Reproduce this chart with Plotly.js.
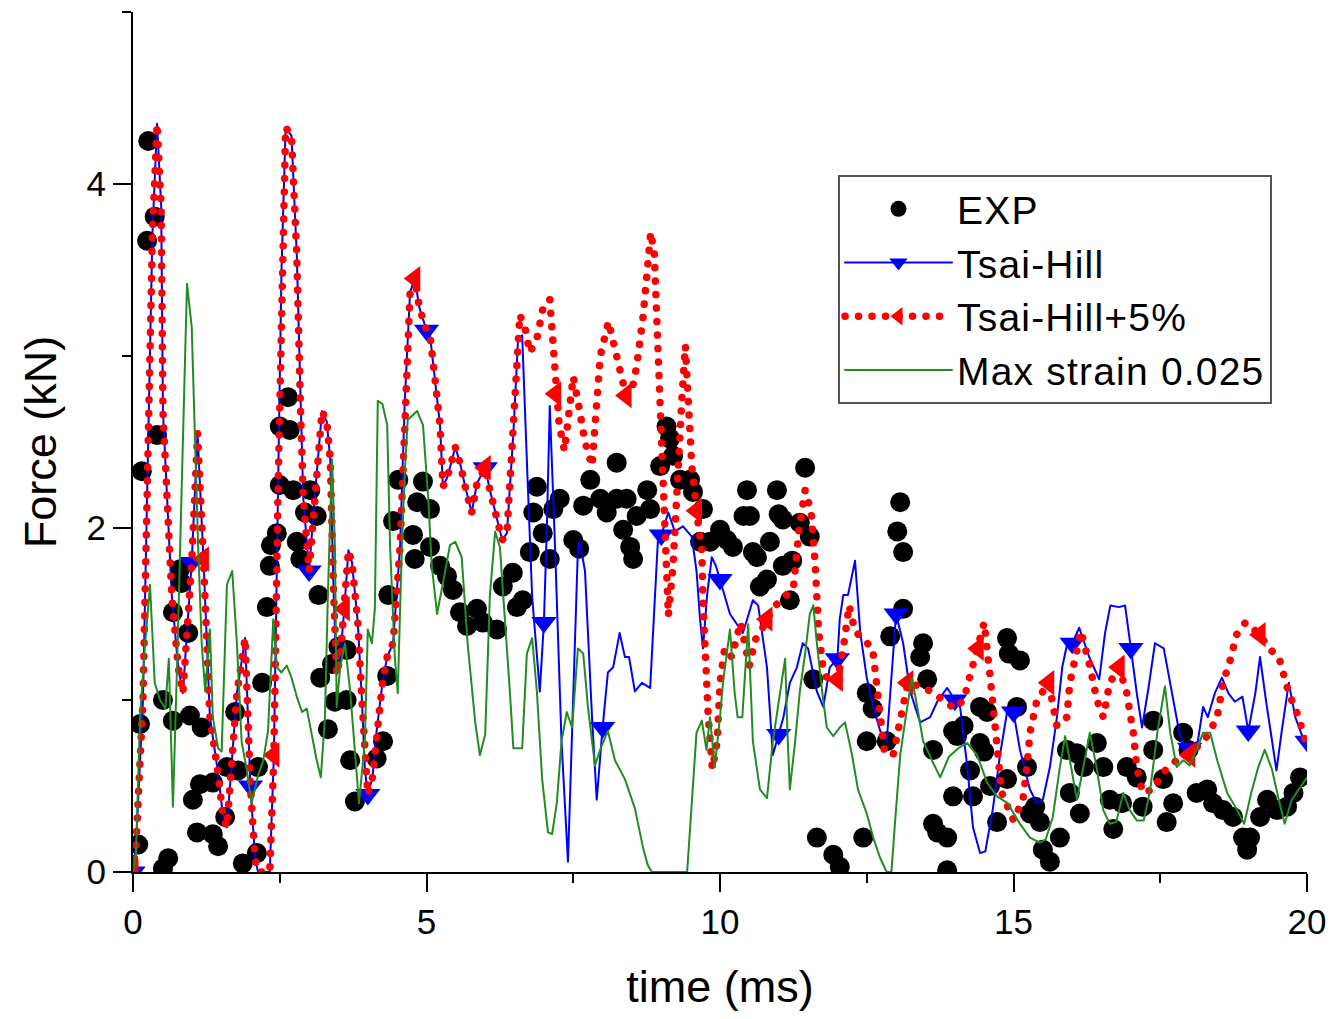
<!DOCTYPE html>
<html>
<head>
<meta charset="utf-8">
<script src="https://cdn.plot.ly/plotly-3.0.1.min.js"></script>
<style>
html, body { margin: 0; padding: 0; background: #ffffff; }
#chart { width: 1330px; height: 1019px; }
.js-line { stroke-linecap: round; stroke-linejoin: round; }
.legendtext { letter-spacing: 1.2px; }
</style>
</head>
<body>
<div id="chart"></div>
<script>
// ---------- data ----------
const seriesNames = ['EXP', 'Tsai-Hill', 'Tsai-Hill+5%', 'Max strain 0.025'];
const xTickValues = [0, 5, 10, 15, 20];
const yTickValues = [0, 2, 4];

// EXP (measured force, kN) vs time (ms)
const expTime = [
  0.09, 0.12, 0.15, 0.24, 0.26, 0.37, 0.41, 0.51, 0.51, 0.6,
  0.68, 0.68, 0.8, 0.83, 0.94, 0.97, 1.02, 1.09, 1.14, 1.17,
  1.36, 1.36, 1.45, 1.57, 1.6, 1.74, 1.79, 1.87, 2.11, 2.13,
  2.2, 2.28, 2.33, 2.35, 2.45, 2.5, 2.5, 2.64, 2.67, 2.73,
  2.79, 2.85, 2.93, 3.02, 3.13, 3.16, 3.19, 3.32, 3.39, 3.44,
  3.5, 3.64, 3.64, 3.7, 3.78, 4.15, 4.26, 4.33, 4.35, 4.43,
  4.52, 4.77, 4.8, 4.84, 4.94, 5.06, 5.06, 5.23, 5.35, 5.45,
  5.57, 5.69, 5.86, 5.96, 6.2, 6.3, 6.47, 6.54, 6.64, 6.76,
  6.82, 6.88, 6.98, 7.1, 7.16, 7.27, 7.5, 7.6, 7.67, 7.79,
  7.96, 8.07, 8.24, 8.24, 8.35, 8.41, 8.47, 8.52, 8.58, 8.76,
  8.81, 8.98, 9.09, 9.15, 9.2, 9.32, 9.49, 9.54, 9.66, 9.71,
  9.83, 10.0, 10.12, 10.22, 10.4, 10.46, 10.51, 10.56, 10.63, 10.68,
  10.8, 10.85, 10.97, 11.0, 11.07, 11.07, 11.19, 11.23, 11.36, 11.45,
  11.53, 11.59, 11.65, 11.93, 12.04, 12.44, 12.5, 12.5, 12.6, 12.84,
  12.9, 13.02, 13.07, 13.12, 13.12, 13.41, 13.46, 13.53, 13.63, 13.63,
  13.7, 13.87, 13.87, 13.97, 13.97, 14.04, 14.15, 14.26, 14.31, 14.43,
  14.43, 14.5, 14.55, 14.6, 14.72, 14.89, 14.89, 14.92, 15.06, 15.11,
  15.23, 15.28, 15.37, 15.45, 15.5, 15.62, 15.79, 15.91, 15.96, 16.08,
  16.13, 16.2, 16.42, 16.53, 16.64, 16.7, 16.85, 16.93, 17.1, 17.2,
  17.38, 17.38, 17.55, 17.61, 17.72, 17.89, 17.98, 18.12, 18.3, 18.4,
  18.57, 18.74, 18.91, 18.98, 19.03, 19.2, 19.32, 19.49, 19.66, 19.77,
  19.88
];
const expForce = [
  0.16, 0.86, 2.33, 3.67, 4.25, 3.81, 2.54, 0.02, 1.0, 0.08,
  0.88, 1.51, 1.76, 1.68, 1.39, 0.91, 0.42, 0.23, 0.51, 0.84,
  0.52, 0.22, 0.15, 0.32, 0.61, 0.93, 0.59, 0.05, 0.11, 0.61,
  1.1, 1.54, 1.78, 1.9, 1.97, 2.59, 2.25, 2.76, 2.57, 2.22,
  1.92, 1.82, 2.09, 2.22, 2.07, 1.61, 1.13, 0.83, 1.21, 0.99,
  1.31, 1.29, 1.0, 0.65, 0.41, 0.66, 0.76, 1.14, 1.61, 2.04,
  2.28, 1.96, 1.82, 2.15, 2.27, 2.11, 1.89, 1.78, 1.72, 1.64,
  1.51, 1.43, 1.53, 1.45, 1.41, 1.66, 1.74, 1.54, 1.58, 1.86,
  2.09, 2.24, 1.97, 1.82, 2.11, 2.17, 1.93, 1.88, 2.13, 2.28,
  2.17, 2.09, 2.38, 2.17, 1.99, 2.17, 1.89, 1.82, 2.07, 2.22,
  2.11, 2.36, 2.59, 2.52, 2.42, 2.28, 2.28, 2.21, 1.92, 2.11,
  1.92, 1.99, 1.93, 1.89, 2.07, 2.22, 2.07, 1.86, 1.83, 1.66,
  1.7, 1.92, 2.22, 2.08, 2.05, 1.78, 1.58, 1.81, 2.03, 2.35,
  1.95, 1.12, 0.2, 0.1, 0.03, 0.2, 1.04, 0.76, 0.95, 0.76,
  1.37, 1.98, 2.15, 1.86, 1.53, 1.25, 1.33, 1.12, 0.71, 0.28,
  0.23, 0.2, 0.01, 0.82, 0.44, 0.79, 0.85, 0.59, 0.44, 0.96,
  0.75, 0.7, 0.93, 0.5, 0.29, 0.54, 1.36, 1.27, 0.96, 1.23,
  0.61, 0.34, 0.38, 0.29, 0.13, 0.06, 0.2, 0.71, 0.46, 0.69,
  0.34, 0.61, 0.75, 0.61, 0.42, 0.25, 0.4, 0.61, 0.55, 0.38,
  0.88, 0.71, 0.54, 0.29, 0.4, 0.81, 0.71, 0.46, 0.48, 0.4,
  0.36, 0.32, 0.2, 0.13, 0.2, 0.32, 0.42, 0.36, 0.38, 0.46,
  0.55
];

// Tsai-Hill simulation
const hillTime = [
  0, 0.05, 0.17, 0.26, 0.33, 0.41, 0.48, 0.51, 0.58, 0.66,
  0.77, 0.85, 1.0, 1.1, 1.2, 1.31, 1.43, 1.54, 1.6, 1.77,
  1.91, 2.0, 2.08, 2.13, 2.33, 2.4, 2.47, 2.53, 2.6, 2.7,
  2.79, 2.85, 2.9, 3.0, 3.1, 3.22, 3.3, 3.36, 3.42, 3.47,
  3.53, 3.6, 3.67, 3.73, 3.83, 3.9, 3.95, 4.0, 4.08, 4.15,
  4.25, 4.33, 4.43, 4.55, 4.63, 4.72, 4.8, 4.88, 5.0, 5.06,
  5.15, 5.23, 5.28, 5.36, 5.49, 5.57, 5.66, 5.77, 5.86, 6.0,
  6.08, 6.2, 6.29, 6.37, 6.48, 6.56,
  6.63, 6.72, 6.8, 6.93, 7.0, 7.05, 7.1, 7.19, 7.3, 7.41,
  7.5, 7.58, 7.61, 7.7, 7.82, 7.9, 8.0, 8.09, 8.18, 8.29,
  8.38, 8.45, 8.55, 8.67, 8.81, 8.9, 8.95, 9.0, 9.12, 9.23,
  9.37, 9.52, 9.6, 9.66, 9.71, 9.78, 9.86, 9.93, 10.0, 10.17,
  10.39, 10.56, 10.65, 10.8, 10.9, 11.0, 11.08, 11.19, 11.31, 11.41,
  11.5, 11.65, 11.76, 11.87, 12.0, 12.04, 12.1, 12.18, 12.3, 12.39,
  12.5, 12.61, 12.73, 12.84, 12.95, 13.0, 13.12, 13.24, 13.41, 13.58,
  13.7, 13.87, 14.0, 14.09, 14.21, 14.31, 14.43, 14.52, 14.65, 14.77,
  14.89, 15.0, 15.11, 15.28, 15.4, 15.5, 15.62, 15.74, 15.83, 15.91,
  16.0, 16.12, 16.29, 16.46, 16.56, 16.65, 16.8, 16.9, 17.0, 17.1,
  17.19, 17.3, 17.41, 17.56, 17.7, 17.82, 17.93, 18.0, 18.14, 18.23,
  18.31, 18.43, 18.55, 18.66, 18.77, 18.9, 19.0, 19.12, 19.2, 19.3,
  19.4, 19.48, 19.57, 19.69, 19.8, 19.92, 20.0
];
const hillForce = [
  0, 0.15, 1.0, 2.6, 3.7, 4.35, 3.87, 2.68, 2.18, 1.61,
  1.19, 1.04, 1.8, 2.55, 1.82, 0.9, 0.62, 0.31, 0.26, 1.04,
  1.36, 0.5, 0.08, 0, 0, 0.68, 2.2, 3.5, 4.33, 4.28,
  3.59, 2.74, 2.18, 1.75, 2.2, 2.68, 2.62, 2.4, 1.6, 1.15,
  1.25, 1.53, 1.87, 1.8, 1.45, 1.0, 0.6, 0.45, 0.55, 0.82,
  1.1, 1.25, 1.33, 1.89, 2.74, 3.37, 3.45, 3.28, 3.15, 3.12,
  2.85, 2.6, 2.24, 2.3, 2.47, 2.38, 2.24, 2.09, 2.26, 2.35,
  2.22, 2.05, 1.93, 1.97, 2.55, 3.1,
  3.12, 2.3, 1.6, 1.05, 1.45, 2.0, 2.71, 1.89, 0.76, 0.06,
  1.05, 1.89, 1.92, 1.75, 0.9, 0.42, 0.84, 1.16, 1.19, 1.39,
  1.25, 1.25, 1.05, 1.1, 1.07, 1.61, 1.98, 1.96, 2.09, 1.98,
  2.01, 1.95, 1.75, 1.47, 1.3, 1.61, 1.83, 1.78, 1.7, 1.5,
  1.39, 1.58, 1.55, 1.19, 0.68, 0.8, 0.9, 1.1, 1.19, 1.33,
  1.3, 1.05, 0.96, 1.19, 1.24, 1.47, 1.61, 1.61, 1.81, 1.39,
  1.13, 0.96, 0.82, 0.76, 1.3, 1.5, 1.33, 1.05, 0.87, 0.9,
  0.99, 1.07, 1.0, 0.96, 0.62, 0.26, 0.11, 0.12, 0.37, 0.68,
  0.93, 0.93, 0.71, 0.48, 0.4, 0.42, 0.61, 0.9, 1.19, 1.32,
  1.33, 1.42, 1.25, 1.12, 1.39, 1.55, 1.54, 1.55, 1.3, 1.04,
  0.84, 1.07, 1.33, 1.3, 1.04, 0.82, 0.7, 0.72, 0.76, 0.96,
  0.9, 1.04, 1.13, 1.04, 0.99, 1.02, 0.82, 1.04, 1.25, 1.0,
  0.76, 0.59, 0.82, 1.1, 0.9, 0.79, 0.76
];

// Tsai-Hill+5% simulation
const hill5Time = [
  0, 0.05, 0.17, 0.26, 0.33, 0.41, 0.48, 0.51, 0.58, 0.66,
  0.77, 0.85, 1.0, 1.1, 1.2, 1.31, 1.43, 1.54, 1.6, 1.77,
  1.91, 2.0, 2.08, 2.13, 2.33, 2.4, 2.47, 2.53, 2.6, 2.7,
  2.79, 2.85, 2.9, 3.0, 3.1, 3.22, 3.3, 3.36, 3.42, 3.47,
  3.53, 3.6, 3.67, 3.73, 3.83, 3.9, 3.95, 4.0, 4.08, 4.15,
  4.25, 4.33, 4.43, 4.55, 4.63, 4.72, 4.8, 4.88, 5.0, 5.06,
  5.15, 5.23, 5.28, 5.36, 5.49, 5.57, 5.66, 5.77, 5.86, 6.0,
  6.08, 6.2, 6.29, 6.37, 6.48, 6.56,
  6.59, 6.68, 6.76, 6.88, 6.98, 7.1, 7.16, 7.2, 7.26, 7.35,
  7.42, 7.5, 7.6, 7.7, 7.82, 7.96, 8.1, 8.2, 8.3, 8.4,
  8.5, 8.58, 8.69, 8.78, 8.82, 8.88, 8.93, 8.97, 9.01, 9.06,
  9.09, 9.12, 9.2, 9.28, 9.35, 9.41, 9.46, 9.52, 9.6, 9.69,
  9.71, 9.74, 9.8, 9.87, 9.95, 10.0, 10.08, 10.2, 10.35, 10.5,
  10.6, 10.7, 10.8, 10.95, 11.1, 11.25, 11.35, 11.45, 11.55, 11.62,
  11.68, 11.75, 11.85, 12.0, 12.1, 12.2, 12.3, 12.45, 12.6, 12.7,
  12.8, 12.95, 13.1, 13.2, 13.4, 13.6, 13.8, 14.0, 14.15, 14.3,
  14.4, 14.5, 14.6, 14.68, 14.74, 14.8, 15.0, 15.16, 15.23, 15.28,
  15.4, 15.6, 15.74, 15.91, 15.96, 16.08, 16.15, 16.3, 16.42, 16.53,
  16.64, 16.8, 16.93, 17.04, 17.1, 17.2, 17.38, 17.55, 17.78, 18.0,
  18.12, 18.3, 18.47, 18.57, 18.69, 18.8, 18.95, 19.05, 19.2, 19.35,
  19.52, 19.69, 19.86, 20.0
];
const hill5Force = [
  0, 0.15, 1.0, 2.6, 3.7, 4.35, 3.87, 2.68, 2.18, 1.61,
  1.19, 1.04, 1.8, 2.55, 1.82, 0.9, 0.62, 0.31, 0.26, 1.04,
  1.36, 0.5, 0.08, 0, 0, 0.68, 2.2, 3.5, 4.33, 4.28,
  3.59, 2.74, 2.18, 1.75, 2.2, 2.68, 2.62, 2.4, 1.6, 1.15,
  1.25, 1.53, 1.87, 1.8, 1.45, 1.0, 0.6, 0.45, 0.55, 0.82,
  1.1, 1.25, 1.33, 1.89, 2.74, 3.37, 3.45, 3.28, 3.15, 3.12,
  2.85, 2.6, 2.24, 2.3, 2.47, 2.38, 2.24, 2.09, 2.26, 2.35,
  2.22, 2.05, 1.93, 1.97, 2.55, 3.1,
  3.24, 3.16, 3.02, 3.1, 3.27, 3.33, 3.04, 2.78, 2.6, 2.45,
  2.7, 2.88, 2.7, 2.5, 2.36, 3.0, 3.2, 3.05, 2.94, 2.77,
  2.8, 2.94, 3.23, 3.52, 3.72, 3.6, 3.2, 2.9, 2.55, 2.17,
  1.78, 1.49, 1.78, 2.36, 2.75, 3.06, 2.75, 2.36, 2.1, 1.87,
  1.58, 1.29, 0.9, 0.6, 0.75, 1.1, 1.3, 1.25, 1.45, 1.2,
  1.35, 1.4, 1.47, 1.55, 1.6, 1.65, 2.0, 2.22, 2.1, 1.8,
  1.4, 1.2, 1.1, 1.12, 1.3, 1.55, 1.4, 1.35, 1.3, 1.0,
  0.7, 0.68, 0.95, 1.1, 1.08, 1.05, 1.0, 0.95, 1.0, 1.2,
  1.3, 1.45, 1.14, 0.9, 0.65, 0.46, 0.3, 0.42, 0.61, 0.81,
  1.0, 1.1, 0.85, 0.9, 1.1, 1.3, 1.4, 1.2, 1.0, 0.9,
  1.1, 1.19, 1.04, 0.81, 0.61, 0.46, 0.48, 0.58, 0.65, 0.68,
  0.73, 0.79, 0.9, 1.1, 1.23, 1.38, 1.45, 1.42, 1.38, 1.3,
  1.25, 1.04, 0.9, 0.72
];

// Max strain 0.025 simulation
const strainTime = [
  0, 0.05, 0.12, 0.2, 0.29, 0.37, 0.46, 0.55, 0.61, 0.68,
  0.75, 0.83, 0.92, 1.0, 1.06, 1.11, 1.17, 1.23, 1.31, 1.36,
  1.45, 1.51, 1.6, 1.69, 1.77, 1.85, 1.94, 2.02, 2.13, 2.22,
  2.3, 2.39, 2.45, 2.53, 2.62, 2.7, 2.79, 2.88, 2.96, 3.05,
  3.13, 3.2, 3.27, 3.32, 3.39, 3.44, 3.47, 3.53, 3.61, 3.7,
  3.78, 3.85, 3.95, 4.0, 4.07, 4.12, 4.17, 4.25, 4.33, 4.38,
  4.46, 4.51, 4.58, 4.63, 4.68, 4.84, 4.94, 5.03, 5.09, 5.18,
  5.28, 5.4, 5.49, 5.6, 5.7, 5.83, 5.91, 6.0, 6.08, 6.17,
  6.25, 6.34, 6.42, 6.48, 6.63, 6.71, 6.8, 6.88, 6.97, 7.07,
  7.14, 7.22, 7.3, 7.39, 7.48, 7.58, 7.67, 7.75, 7.87, 7.98,
  8.09, 8.21, 8.38, 8.55, 8.69, 8.77, 8.84, 9.44, 9.54, 9.6,
  9.69, 9.77, 9.83, 9.91, 10.0, 10.05, 10.17, 10.25, 10.3, 10.38,
  10.48, 10.56, 10.68, 10.8, 10.9, 11.02, 11.11, 11.15, 11.19, 11.28,
  11.36, 11.45, 11.53, 11.59, 11.65, 11.74, 11.82, 11.93, 12.04, 12.13,
  12.25, 12.35, 12.5, 12.61, 12.73, 12.84, 12.92, 12.98, 13.07, 13.19,
  13.27, 13.36, 13.46, 13.61, 13.75, 13.9, 14.06, 14.21, 14.38, 14.55,
  14.72, 14.9, 15.11, 15.28, 15.45, 15.55, 15.67, 15.79, 15.88, 15.96,
  16.08, 16.19, 16.3, 16.42, 16.53, 16.64, 16.75, 16.87, 16.98, 17.1,
  17.22, 17.33, 17.45, 17.58, 17.67, 17.78, 17.89, 18.0, 18.12, 18.23,
  18.35, 18.47, 18.64, 18.81, 18.93, 19.05, 19.17, 19.28, 19.4, 19.52,
  19.62, 19.74, 19.86, 20.0
];
const strainForce = [
  0, 0.1, 0.9, 1.3, 1.67, 1.1, 1.0, 0.95, 1.24, 0.38,
  1.19, 2.18, 3.42, 3.17, 2.45, 1.89, 1.33, 1.05, 1.41, 0.9,
  0.72, 0.7, 1.67, 1.75, 1.33, 0.76, 0.59, 0.4, 0.56, 0.65,
  0.82, 1.47, 1.19, 1.16, 1.2, 1.13, 1.02, 0.93, 0.95, 0.79,
  0.65, 0.55, 0.9, 1.61, 2.4, 1.89, 0.96, 1.19, 1.33, 1.05,
  0.7, 0.4, 0.76, 1.41, 1.33, 1.53, 2.74, 2.72, 2.6, 1.89,
  1.25, 1.04, 1.89, 2.32, 2.63, 2.68, 2.6, 2.17, 1.78, 1.5,
  1.68, 1.9, 1.92, 1.83, 1.33, 0.87, 0.68, 0.8, 1.61, 1.98,
  1.89, 1.47, 1.05, 0.72, 0.72, 1.27, 1.36, 1.05, 0.54, 0.23,
  0.22, 0.4, 0.76, 0.93, 0.84, 1.3, 1.27, 0.96, 0.62, 0.73,
  0.82, 0.65, 0.54, 0.37, 0.14, 0.04, 0, 0, 0.52, 0.81,
  0.88, 0.71, 0.9, 0.61, 0.9, 1.1, 1.41, 1.04, 0.9, 0.9,
  1.44, 0.76, 0.48, 0.43, 0.76, 1.05, 1.24, 0.8, 0.48, 0.76,
  1.05, 1.27, 1.5, 1.55, 1.33, 1.05, 0.84, 0.79, 0.84, 0.87,
  0.68, 0.48, 0.34, 0.2, 0.08, 0, 0, 0.28, 0.68, 0.96,
  1.13, 0.96, 0.76, 0.65, 0.55, 0.67, 0.72, 0.75, 0.68, 0.52,
  0.44, 0.4, 0.28, 0.2, 0.17, 0.19, 0.32, 0.61, 0.79, 0.65,
  0.42, 0.61, 0.81, 0.6, 0.36, 0.28, 0.29, 0.46, 0.36, 0.3,
  0.3, 0.48, 0.81, 1.08, 0.81, 0.61, 0.65, 0.62, 0.71, 0.81,
  0.81, 0.65, 0.46, 0.36, 0.28, 0.46, 0.61, 0.71, 0.6, 0.42,
  0.28, 0.42, 0.48, 0.55
];

// ---------- styling ----------
const FONT = 'Arial, "Liberation Sans", Helvetica, sans-serif';
const BLUE = '#0000ff', RED = '#ff0000', GREEN = '#228b22', BLACK = '#000000';
const RED_DOTS = '0.1px,13.4px';

// symbols are shown every 1 ms (Tsai-Hill) and every 1.2 ms (Tsai-Hill+5%)
function pick(times, values, step) {
  const xs = [], ys = [];
  times.forEach((t, i) => {
    const k = t / step;
    if (Math.abs(k - Math.round(k)) < 1e-6) { xs.push(t); ys.push(values[i]); }
  });
  return { xs, ys };
}
const hillMarks = pick(hillTime, hillForce, 1.0);
const hill5Marks = pick(hill5Time, hill5Force, 1.2);

const traces = [
  { x: expTime, y: expForce, mode: 'markers', name: seriesNames[0], legendrank: 1,
    marker: { symbol: 'circle', size: 20, color: BLACK, line: { width: 0 } } },

  { x: hillTime, y: hillForce, mode: 'lines', showlegend: false,
    line: { color: BLUE, width: 2 } },
  { x: hillMarks.xs, y: hillMarks.ys, mode: 'markers', showlegend: false,
    marker: { symbol: 'triangle-down', size: 22, color: BLUE, line: { width: 0 } } },

  { x: hill5Time, y: hill5Force, mode: 'lines', showlegend: false,
    line: { color: RED, width: 7.5, dash: RED_DOTS } },
  { x: hill5Marks.xs, y: hill5Marks.ys, mode: 'markers', showlegend: false,
    marker: { symbol: 'triangle-left', size: 22, color: RED, line: { width: 0 } } },

  { x: strainTime, y: strainForce, mode: 'lines', name: seriesNames[3], legendrank: 4,
    line: { color: GREEN, width: 2 } },

  // legend entries combining line + symbol
  { x: [null], y: [null], mode: 'lines+markers', name: seriesNames[1], legendrank: 2,
    line: { color: BLUE, width: 2 },
    marker: { symbol: 'triangle-down', size: 22, color: BLUE } },
  { x: [null], y: [null], mode: 'lines+markers', name: seriesNames[2], legendrank: 3,
    line: { color: RED, width: 7.5, dash: RED_DOTS },
    marker: { symbol: 'triangle-left', size: 22, color: RED } }
];

const axisCommon = {
  showline: true, linewidth: 2, linecolor: BLACK,
  ticks: 'outside', ticklen: 18, tickwidth: 2, tickcolor: BLACK,
  showgrid: false, zeroline: false, fixedrange: true,
  tickfont: { family: FONT, size: 35, color: BLACK }
};

const layout = {
  width: 1330, height: 1019,
  margin: { l: 133, r: 23, t: 12, b: 147, pad: 0 },
  paper_bgcolor: '#ffffff', plot_bgcolor: '#ffffff',
  font: { family: FONT, color: BLACK },
  showlegend: true,
  xaxis: Object.assign({}, axisCommon, {
    range: [0, 20], tickmode: 'array', tickvals: xTickValues,
    minor: { tickmode: 'linear', tick0: 0, dtick: 2.5, ticks: 'outside', ticklen: 9, tickwidth: 2, tickcolor: BLACK, showgrid: false },
    title: { text: 'time (ms)', font: { family: FONT, size: 45, color: BLACK }, standoff: 30 }
  }),
  yaxis: Object.assign({}, axisCommon, {
    range: [0, 5], tickmode: 'array', tickvals: yTickValues,
    minor: { tickmode: 'linear', tick0: 0, dtick: 1, ticks: 'outside', ticklen: 9, tickwidth: 2, tickcolor: BLACK, showgrid: false },
    title: { text: 'Force (kN)', font: { family: FONT, size: 45, color: BLACK }, standoff: 16 }
  }),
  legend: {
    x: 0.6005, y: 0.8105, xanchor: 'left', yanchor: 'top',
    bgcolor: '#ffffff', bordercolor: '#555555', borderwidth: 2,
    font: { family: FONT, size: 39, color: BLACK },
    itemwidth: 107, tracegroupgap: 0
  }
};

Plotly.newPlot('chart', traces, layout, { displayModeBar: false, staticPlot: true });
</script>
</body>
</html>
